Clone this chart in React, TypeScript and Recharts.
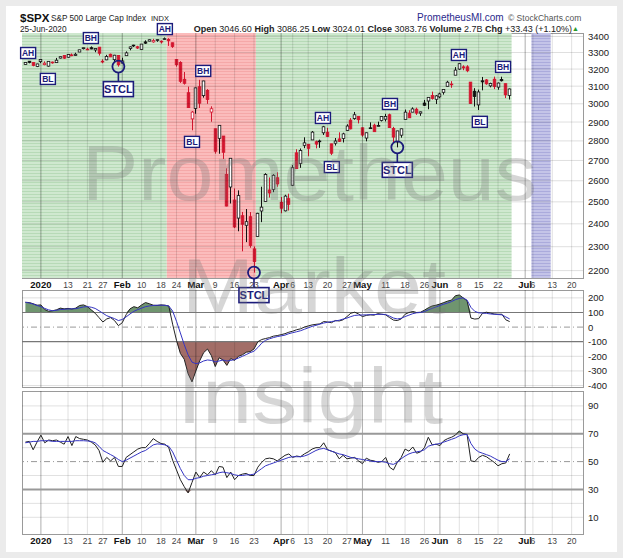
import React from 'react';
import {
  ComposedChart, Bar, Line, Area, XAxis, YAxis,
  ReferenceArea, ReferenceLine, ReferenceDot,
} from 'recharts';

const FONT = '"Liberation Sans", Arial, Helvetica, sans-serif';
const NAVY = '#1b1b7a';

// trading day number, 2 Jan 2020 = 0; first candle is 26 Dec 2019
const firstDay = -4;
const prevClose0 = 3223.4;

const opens = [
  3227.2, 3247.2, 3240.1, 3215.2,
  3244.7, 3226.4, 3217.6, 3241.9, 3238.6, 3266.0, 3281.8, 3271.1, 3285.4, 3282.3,
  3303.0, 3323.7, 3321.0, 3330.0, 3315.8, 3333.1, 3247.2, 3255.4, 3289.5, 3256.5,
  3282.3, 3235.7, 3280.6, 3324.9, 3344.9, 3335.5, 3318.3, 3365.9, 3370.5, 3365.9,
  3378.1, 3369.0, 3380.4, 3380.5, 3360.5, 3257.6, 3238.9, 3139.9, 3062.5, 2916.9,
  2974.3, 3096.5, 3045.8, 3075.7, 2954.2, 2863.9, 2813.5, 2825.6, 2630.9, 2570.0,
  2508.6, 2425.7, 2436.5, 2393.5, 2431.9, 2290.7, 2344.4, 2457.8, 2501.3, 2555.9,
  2559.0, 2614.7, 2498.1, 2458.5, 2514.9, 2578.3, 2738.7, 2685.0, 2777.0, 2782.5,
  2805.1, 2795.6, 2799.3, 2842.4, 2845.6, 2784.8, 2787.9, 2810.4, 2812.6, 2854.7,
  2910.0, 2918.5, 2930.9, 2869.1, 2815.0, 2868.9, 2883.1, 2878.3, 2908.8, 2915.5,
  2939.5, 2865.9, 2794.5, 2830.0, 2913.9, 2948.6, 2953.6, 2970.0, 2948.1, 3004.1,
  3015.7, 3046.6, 3025.2, 3038.8, 3064.8, 3098.9, 3111.6, 3163.8, 3199.9, 3213.3,
  3213.4, 3123.5, 3071.0, 2993.8, 3131.0, 3136.1, 3101.6, 3140.3, 3094.4, 3138.7,
  3114.4, 3046.6,
];
const highs = [
  3240.1, 3247.9, 3240.9, 3231.7,
  3258.1, 3246.2, 3246.8, 3244.9, 3267.1, 3275.6, 3283.0, 3288.1, 3294.3, 3298.7,
  3317.1, 3329.9, 3329.8, 3337.8, 3326.9, 3333.2, 3258.9, 3285.8, 3293.5, 3285.9,
  3282.3, 3268.4, 3306.9, 3337.6, 3348.0, 3341.4, 3352.3, 3375.6, 3381.5, 3385.1,
  3380.7, 3375.0, 3393.5, 3389.2, 3360.8, 3259.8, 3247.0, 3182.5, 3097.1, 2959.7,
  3091.0, 3136.7, 3131.0, 3083.0, 2985.9, 2863.9, 2882.6, 2825.6, 2661.0, 2711.3,
  2563.0, 2553.9, 2453.6, 2467.0, 2453.0, 2300.7, 2449.7, 2571.4, 2637.0, 2615.9,
  2631.8, 2641.4, 2522.8, 2533.2, 2538.2, 2676.9, 2756.9, 2760.8, 2818.6, 2782.5,
  2851.9, 2801.9, 2806.5, 2879.2, 2869.0, 2785.5, 2815.1, 2844.9, 2842.7, 2887.7,
  2921.2, 2954.9, 2930.9, 2869.1, 2844.2, 2898.2, 2891.1, 2901.9, 2932.2, 2944.3,
  2945.8, 2874.1, 2852.8, 2865.0, 2968.1, 2964.2, 2980.3, 2978.5, 2956.8, 3021.7,
  3036.3, 3068.7, 3049.2, 3062.2, 3081.1, 3130.9, 3128.9, 3211.7, 3233.1, 3222.7,
  3223.3, 3123.5, 3088.4, 3079.8, 3153.5, 3141.2, 3120.0, 3155.5, 3120.9, 3154.9,
  3115.0, 3086.3,
];
const lows = [
  3227.2, 3234.4, 3216.6, 3212.0,
  3235.5, 3222.3, 3214.6, 3232.4, 3236.7, 3263.7, 3260.9, 3268.4, 3277.2, 3280.7,
  3302.8, 3318.9, 3316.6, 3320.0, 3301.9, 3281.5, 3234.5, 3253.2, 3271.9, 3242.8,
  3214.7, 3235.7, 3280.6, 3313.8, 3334.4, 3322.1, 3317.8, 3352.7, 3369.7, 3360.5,
  3366.2, 3355.6, 3378.8, 3341.0, 3328.5, 3214.7, 3118.8, 3109.0, 2977.4, 2855.8,
  2945.2, 2976.6, 3034.4, 2999.8, 2901.5, 2734.4, 2734.0, 2707.2, 2478.9, 2492.4,
  2380.9, 2367.0, 2280.5, 2319.8, 2295.6, 2191.9, 2344.4, 2407.5, 2500.7, 2520.0,
  2545.3, 2571.2, 2447.5, 2455.8, 2460.0, 2574.6, 2657.7, 2663.3, 2762.4, 2721.2,
  2805.1, 2761.5, 2764.3, 2830.9, 2820.4, 2727.1, 2776.0, 2794.3, 2791.8, 2852.9,
  2860.7, 2912.2, 2892.5, 2821.6, 2797.9, 2863.6, 2847.7, 2876.5, 2902.9, 2903.4,
  2869.6, 2793.2, 2766.6, 2816.8, 2913.9, 2922.4, 2953.6, 2938.6, 2933.6, 2988.2,
  2969.8, 3023.4, 2998.6, 3031.5, 3051.6, 3098.9, 3090.4, 3163.8, 3196.0, 3193.1,
  3181.5, 2999.5, 2984.5, 2965.7, 3076.1, 3108.0, 3093.5, 3083.1, 3079.4, 3127.1,
  3032.1, 3024.0,
];
const closes = [
  3239.9, 3240.0, 3221.3, 3230.8,
  3257.9, 3234.9, 3246.3, 3237.2, 3253.1, 3274.7, 3265.4, 3288.1, 3283.2, 3289.3,
  3316.8, 3329.6, 3320.8, 3321.8, 3325.5, 3295.5, 3243.6, 3276.2, 3273.4, 3283.7,
  3225.5, 3248.9, 3297.6, 3334.7, 3345.8, 3327.7, 3352.1, 3357.8, 3379.5, 3373.9,
  3380.2, 3370.3, 3386.2, 3373.2, 3337.8, 3225.9, 3128.2, 3116.4, 2978.8, 2954.2,
  3090.2, 3003.4, 3130.1, 3023.9, 2972.4, 2746.6, 2882.2, 2741.4, 2480.6, 2711.0,
  2386.1, 2529.2, 2398.1, 2409.4, 2304.9, 2237.4, 2447.3, 2475.6, 2630.1, 2541.5,
  2626.7, 2584.6, 2470.5, 2526.9, 2488.7, 2663.7, 2659.4, 2750.0, 2789.8, 2761.6,
  2846.1, 2783.4, 2799.6, 2874.6, 2823.2, 2736.6, 2799.3, 2797.8, 2836.7, 2878.5,
  2863.4, 2939.5, 2912.4, 2830.7, 2842.7, 2868.4, 2848.4, 2881.2, 2929.8, 2930.2,
  2870.1, 2820.0, 2852.5, 2863.7, 2953.9, 2922.9, 2971.6, 2948.5, 2955.5, 2991.8,
  3036.1, 3029.7, 3044.3, 3055.7, 3080.8, 3122.9, 3112.4, 3193.9, 3232.4, 3207.2,
  3190.1, 3002.1, 3041.3, 3066.6, 3124.7, 3113.5, 3115.3, 3097.7, 3117.9, 3131.3,
  3050.3, 3083.8,
];

const cci = [
  170, 168, 160, 150,
  152, 120, 108, 112, 118, 130, 125, 128, 124, 130,
  148, 152, 140, 118, 95, 65, 35, 56, 65, 45,
  10, 30, 85, 125, 140, 132, 152, 168, 160, 150,
  148, 152, 150, 145, 20, -90, -180, -220, -320, -375,
  -300, -230, -175, -150, -195, -270, -210, -225, -262, -215,
  -228, -200, -190, -172, -168, -150, -100, -85, -78, -72,
  -62, -58, -52, -45, -35, -28, -18, -12, 0, 8,
  15, 19, 22, 38, 35, 30, 45, 42, 50, 72,
  95, 102, 90, 72, 80, 84, 82, 92, 88, 84,
  65, 48, 45, 56, 88, 100, 107, 100, 102, 116,
  132, 145, 150, 158, 168, 178, 185, 215, 220, 200,
  180, 62, 55, 58, 95, 102, 96, 90, 88, 88,
  50, 38,
];
const cciSignal = [
  170, 165, 158, 148,
  140, 128, 118, 112, 115, 120, 122, 124, 125, 126,
  132, 138, 140, 136, 128, 112, 95, 78, 68, 58,
  45, 52, 70, 90, 108, 120, 130, 140, 145, 148,
  150, 150, 149, 145, 110, 40, -40, -120, -190, -240,
  -250, -245, -232, -225, -228, -238, -232, -225, -232, -228,
  -222, -212, -200, -188, -175, -165, -140, -110, -90, -80,
  -72, -65, -60, -55, -45, -38, -32, -25, -15, -5,
  5, 12, 20, 28, 33, 38, 42, 47, 55, 62,
  72, 80, 82, 83, 84, 85, 86, 87, 88, 86,
  75, 62, 56, 60, 72, 82, 92, 98, 100, 106,
  118, 128, 138, 148, 157, 165, 175, 188, 196, 200,
  185, 135, 108, 98, 96, 94, 90, 88, 86, 84,
  70, 56,
];
const rsi = [
  64, 64.5, 58.5, 64,
  69, 63.5, 65.5, 65, 65.5, 64, 62.5, 68, 61.5, 68,
  66.5, 66, 65.5, 64, 62, 58, 49.5, 53, 50.5, 53,
  46.5, 46.5, 53, 55, 57, 59, 60, 60, 63, 66.5,
  64.5, 63, 62.5, 60, 51, 44, 37, 32, 27.5, 35,
  42.5, 38.5, 42.5, 40.5, 43.5, 40.5, 46.5, 46, 38.5, 42.5,
  37, 40, 41, 41.5, 40, 40, 46, 49.5, 52, 52.5,
  52, 50.5, 52.5, 54.5, 55.5, 53, 54, 53.5, 55.5, 57,
  59, 60, 60, 63.5, 58.5, 57.5, 56.5, 52, 54.5, 52,
  52.5, 53, 50.5, 48.5, 52.5, 51, 50.5, 49.5, 50, 53,
  46, 44, 49.5, 53, 59, 57.5, 60.5, 56, 57, 60,
  67.5, 62, 62.5, 61.5, 65, 66.5, 67.5, 69, 72, 70,
  69.5, 50.5, 50, 53, 54.5, 53.5, 51.5, 49.5, 47, 48.5,
  49, 55.5,
];
const rsiSignal = [
  63.5, 64, 64.5, 64.5,
  65, 65, 65, 64.5, 64.5, 64.5, 64.5, 64.5, 64.5, 65,
  65, 65, 64.8, 64.5, 63.5, 61, 58, 56.5, 55, 53.5,
  51.5, 50, 51, 52.5, 54, 55.5, 57, 58, 60, 62,
  62.7, 62.5, 62, 61, 57, 51, 45, 40, 37, 37,
  38, 38.5, 39.5, 40, 40.5, 41, 42, 42.5, 42, 41.5,
  40.5, 40, 40, 40.5, 40.5, 41, 43, 45, 47, 48,
  49, 50, 51, 52, 53, 53.5, 53.5, 53.5, 54, 55,
  56.5, 58, 59, 59.5, 58.5, 57.5, 56.5, 55.5, 55, 54,
  53, 52.5, 52, 51.5, 51, 50.5, 50, 50, 50, 49.5,
  48.5, 48, 49.5, 52, 54, 55.5, 56.5, 57, 57.5, 58.5,
  61, 62, 62.5, 63, 64, 65, 66, 67, 68.5, 69.3,
  69.5, 63, 59, 57, 56, 55, 54, 52.5, 51, 50,
  50, 52,
];

const tickDays = [0, 7, 12, 16, 21, 26, 31, 35, 40, 45, 50, 55, 62, 65, 69, 74, 79, 83, 89, 94, 99, 103, 108, 113, 118, 125, 127, 132, 137];
const tickLabels = ['2020', '13', '21', '27', 'Feb', '10', '18', '24', 'Mar', '9', '16', '23', 'Apr', '6', '13', '20', '27', 'May', '11', '18', '26', 'Jun', '8', '15', '22', 'Jul', '6', '13', '20'];
const monthDays = [0, 21, 40, 62, 83, 103, 125];

const priceTicks = [2200, 2300, 2400, 2500, 2600, 2700, 2800, 2900, 3000, 3100, 3200, 3300, 3400];
const cciTicks = [200, 100, 0, -100, -200, -300, -400];
const rsiTicks = [90, 70, 50, 30, 10];
const rsiGrid = [10, 20, 40, 60, 80, 90];

// background regimes: from day, to day
const bands = [
  { from: -4.88, to: 32.5, tone: 'g' },
  { from: 32.5, to: 55.5, tone: 'r' },
  { from: 55.5, to: 121.5, tone: 'g' },
  { from: 126.6, to: 131.6, tone: 'b' },
];

const tags = [
  { day: -3.3, price: 3297, text: 'AH' },
  { day: 1.8, price: 3142, text: 'BL' },
  { day: 12.9, price: 3390, text: 'BH' },
  { day: 32.0, price: 3447, text: 'AH' },
  { day: 41.9, price: 3189, text: 'BH' },
  { day: 39.0, price: 2795, text: 'BL' },
  { day: 72.8, price: 2922, text: 'AH' },
  { day: 75.1, price: 2667, text: 'BL' },
  { day: 90.1, price: 2999, text: 'BH' },
  { day: 107.9, price: 3285, text: 'AH' },
  { day: 119.3, price: 3213, text: 'BH' },
  { day: 113.3, price: 2901, text: 'BL' },
];
const stclDays = [20, 55, 92];

const X_DOMAIN = [-4.88, 139.93];

const days = closes.map((_, k) => k + firstDay);
const priceRows = days.map((day, k) => ({
  day, o: opens[k], h: highs[k], l: lows[k], c: closes[k],
  pc: k ? closes[k - 1] : prevClose0, hl: [lows[k], highs[k]],
}));
const cciRows = days.map((day, k) => ({
  day, v: cci[k], s: cciSignal[k],
  up: [100, Math.max(cci[k], 100)], dn: [Math.min(cci[k], -100), -100],
}));
const rsiRows = days.map((day, k) => ({
  day, v: rsi[k], s: rsiSignal[k],
  up: [70, Math.max(rsi[k], 70)], dn: [Math.min(rsi[k], 30), 30],
}));

const Candle = (props: any) => {
  let { x, y, width, height, payload } = props;
  if (height < 0) { y += height; height = -height; }
  const { o, h, l, c, pc } = payload;
  const k = height / (Math.log(h / l) || 1);
  const yOf = (p: number) => y + Math.log(h / p) * k;
  const cx = Math.round(x + width / 2) + 0.5;
  const color = c < pc ? '#d3152e' : '#111';
  const top = yOf(Math.max(o, c));
  const bot = yOf(Math.min(o, c));
  return (
    <g>
      <line x1={cx} x2={cx} y1={y} y2={y + height} stroke={color} strokeWidth={1} />
      <rect x={cx - 1.3} y={top} width={2.6} height={Math.max(bot - top, 0.8)}
        fill={c >= o ? '#fff' : color} stroke={color} strokeWidth={0.8} />
    </g>
  );
};

const DateTick = ({ x, y, payload }: any) => {
  const i = tickDays.indexOf(payload.value);
  const bold = monthDays.includes(payload.value);
  return (
    <text x={x} y={y} dy={8} textAnchor="middle" fontFamily={FONT}
      fontSize={bold ? 9.5 : 8.5} fontWeight={bold ? 'bold' : 'normal'} fill={bold ? '#111' : '#444'}>
      {tickLabels[i]}
    </text>
  );
};

const ValueTick = ({ x, y, payload }: any) => (
  <text x={x + 5} y={y + 3.5} textAnchor="start" fontFamily={FONT} fontSize={9.5} fill="#222">
    {payload.value}
  </text>
);

const Tag = ({ cx, cy, text }: any) => (
  <g>
    <rect x={cx - 7.5} y={cy - 5.5} width={15} height={11} fill="#fff" stroke={NAVY} strokeWidth={1.4} />
    <text x={cx} y={cy + 3} textAnchor="middle" fontFamily={FONT} fontSize={8.5} fontWeight="bold" fill={NAVY}>{text}</text>
  </g>
);

const Stcl = ({ cx, cy }: any) => (
  <g>
    <circle cx={cx} cy={cy} r={6} fill="none" stroke={NAVY} strokeWidth={1.8} />
    <line x1={cx} x2={cx} y1={cy + 6} y2={cy + 15} stroke={NAVY} strokeWidth={1.6} />
    <rect x={cx - 15} y={cy + 15} width={30} height={15} fill="#fff" stroke={NAVY} strokeWidth={1.6} />
    <text x={cx} y={cy + 26.5} textAnchor="middle" fontFamily={FONT} fontSize={11} fontWeight="bold" fill={NAVY}>STCL</text>
  </g>
);

const vGrid = () =>
  tickDays.map((d) => (
    <ReferenceLine key={'v' + d} x={d} stroke={monthDays.includes(d) ? 'rgba(0,0,0,0.32)' : 'rgba(0,0,0,0.12)'} strokeWidth={1} />
  ));

const frame = (top: number, height: number): React.CSSProperties => ({
  position: 'absolute', left: 22, top, width: 562, height, border: '1px solid #9a9a9a',
  boxSizing: 'border-box', pointerEvents: 'none',
});

function PriceChart() {
  return (
    <ComposedChart width={623} height={315} data={priceRows} margin={{ top: 33, right: 0, bottom: 20, left: 22 }}>
      <defs>
        <pattern id="bg-g" width="4" height="3" patternUnits="userSpaceOnUse">
          <rect width="4" height="3" fill="#cfe8cf" />
          <rect y="2" width="4" height="1" fill="#b7dab7" />
        </pattern>
        <pattern id="bg-r" width="4" height="3" patternUnits="userSpaceOnUse">
          <rect width="4" height="3" fill="#fbbcbc" />
          <rect y="2" width="4" height="1" fill="#f5a8a8" />
        </pattern>
        <pattern id="bg-b" width="4" height="3" patternUnits="userSpaceOnUse">
          <rect width="4" height="3" fill="#c4c4e8" />
          <rect y="2" width="4" height="1" fill="#ababdc" />
        </pattern>
      </defs>
      <XAxis dataKey="day" type="number" domain={X_DOMAIN} ticks={tickDays} interval={0} allowDataOverflow
        tick={<DateTick />} tickLine={false} axisLine={false} tickSize={0} tickMargin={2} height={17} />
      <YAxis orientation="right" type="number" scale="log" domain={[2170, 3422]} ticks={priceTicks} interval={0}
        allowDataOverflow width={40} tick={<ValueTick />} tickLine={false} axisLine={false} tickSize={0} tickMargin={0} />
      {bands.map((b, n) => (
        <ReferenceArea key={'b' + n} x1={b.from} x2={b.to} fill={`url(#bg-${b.tone})`} fillOpacity={1} stroke="none" ifOverflow="hidden" />
      ))}
      {priceTicks.map((p) => <ReferenceLine key={'h' + p} y={p} stroke="rgba(0,0,0,0.13)" />)}
      {vGrid()}
      <Bar dataKey="hl" barSize={3} shape={<Candle />} isAnimationActive={false} />
      {tags.map((t, n) => (
        <ReferenceDot key={'t' + n} x={t.day} y={t.price} r={0} ifOverflow="visible"
          shape={(p: any) => <Tag {...p} text={t.text} />} />
      ))}
      {stclDays.map((d) => (
        <ReferenceDot key={'s' + d} x={d} y={lows[d - firstDay]} r={0} ifOverflow="visible"
          shape={(p: any) => <Stcl {...p} />} />
      ))}
    </ComposedChart>
  );
}

function CciChart() {
  return (
    <ComposedChart width={623} height={105} data={cciRows} margin={{ top: 0, right: 0, bottom: 8, left: 22 }}>
      <XAxis dataKey="day" type="number" domain={X_DOMAIN} ticks={tickDays} hide allowDataOverflow />
      <YAxis orientation="right" type="number" domain={[-410, 254]} ticks={cciTicks} interval={0} allowDataOverflow
        width={40} tick={<ValueTick />} tickLine={false} axisLine={false} tickSize={0} tickMargin={0} />
      {[200, -200, -300, -400].map((v) => <ReferenceLine key={'g' + v} y={v} stroke="rgba(0,0,0,0.13)" />)}
      {vGrid()}
      <ReferenceLine y={0} stroke="#999" strokeDasharray="6 3 1 3" />
      <Area dataKey="up" stroke="none" fill="#6f956f" fillOpacity={1} isAnimationActive={false} dot={false} activeDot={false} />
      <Area dataKey="dn" stroke="none" fill="#a26d67" fillOpacity={1} isAnimationActive={false} dot={false} activeDot={false} />
      <ReferenceLine y={100} stroke="#777" strokeWidth={1.2} />
      <ReferenceLine y={-100} stroke="#777" strokeWidth={1.2} />
      <Line dataKey="v" stroke="#222" strokeWidth={1} dot={false} isAnimationActive={false} />
      <Line dataKey="s" stroke="#3434c2" strokeWidth={1} dot={false} isAnimationActive={false} />
    </ComposedChart>
  );
}

function RsiChart() {
  return (
    <ComposedChart width={623} height={160} data={rsiRows} margin={{ top: 0, right: 0, bottom: 0, left: 22 }}>
      <XAxis dataKey="day" type="number" domain={X_DOMAIN} ticks={tickDays} interval={0} allowDataOverflow
        tick={<DateTick />} tickLine={false} axisLine={false} tickSize={0} tickMargin={2} height={17} />
      <YAxis orientation="right" type="number" domain={[-2, 100.7]} ticks={rsiTicks} interval={0} allowDataOverflow
        width={40} tick={<ValueTick />} tickLine={false} axisLine={false} tickSize={0} tickMargin={0} />
      {rsiGrid.map((v) => <ReferenceLine key={'g' + v} y={v} stroke="rgba(0,0,0,0.12)" />)}
      {vGrid()}
      <ReferenceLine y={50} stroke="#999" strokeDasharray="6 3 1 3" />
      <ReferenceLine y={70} stroke="#999" strokeWidth={2} />
      <ReferenceLine y={30} stroke="#999" strokeWidth={2} />
      <Area dataKey="up" stroke="none" fill="#6f956f" fillOpacity={1} isAnimationActive={false} dot={false} activeDot={false} />
      <Area dataKey="dn" stroke="none" fill="#a26d67" fillOpacity={1} isAnimationActive={false} dot={false} activeDot={false} />
      <Line dataKey="v" stroke="#222" strokeWidth={1} dot={false} isAnimationActive={false} />
      <Line dataKey="s" stroke="#3434c2" strokeWidth={1} dot={false} isAnimationActive={false} />
    </ComposedChart>
  );
}

export default function App() {
  const abs = (top: number, z = 1): React.CSSProperties => ({ position: 'absolute', left: 0, top, zIndex: z });
  return (
    <div style={{ position: 'absolute', left: 0, top: 0, width: 623, height: 558, background: '#ebebeb', fontFamily: FONT, overflow: 'hidden' }}>
      <div style={{ position: 'absolute', left: 6, top: 6, width: 611, height: 546, background: '#fff' }} />
      <div style={abs(290)}><CciChart /></div>
      <div style={abs(391)}><RsiChart /></div>
      <div style={abs(0, 2)}><PriceChart /></div>
      <div style={frame(33, 246)} />
      <div style={frame(290, 98)} />
      <div style={frame(391, 144)} />
      <svg width={623} height={558} style={{ position: 'absolute', left: 0, top: 0, zIndex: 3, pointerEvents: 'none' }}>
        <g fontFamily={FONT} fill="#777" fillOpacity={0.3} fontSize={78}>
          <text x={82} y={200} textLength={455} lengthAdjust="spacingAndGlyphs">Prometheus</text>
          <text x={182} y={313} textLength={264} lengthAdjust="spacingAndGlyphs">Market</text>
          <text x={177} y={423} textLength={266} lengthAdjust="spacingAndGlyphs">Insight</text>
        </g>
        <g fontFamily={FONT}>
          <text x={20} y={22} fontSize={11.5} fontWeight="bold" fill="#111">$SPX</text>
          <text x={51} y={21} fontSize={8.2} fill="#222">S&amp;P 500 Large Cap Index</text>
          <text x={151} y={21} fontSize={7.5} fill="#222">INDX</text>
          <text x={20} y={32} fontSize={8.3} fill="#222">25-Jun-2020</text>
          <text x={417} y={21} fontSize={10} fill="#2a2a8c">PrometheusMI.com</text>
          <text x={508} y={21} fontSize={8.5} fill="#555">© StockCharts.com</text>
          <text x={572} y={32} textAnchor="end" fontSize={9} fill="#222">
            <tspan fontWeight="bold">Open</tspan> 3046.60 <tspan fontWeight="bold">High</tspan> 3086.25{' '}
            <tspan fontWeight="bold">Low</tspan> 3024.01 <tspan fontWeight="bold">Close</tspan> 3083.76{' '}
            <tspan fontWeight="bold">Volume</tspan> 2.7B <tspan fontWeight="bold">Chg</tspan> +33.43 (+1.10%)
          </text>
          <text x={579} y={31} fontSize={7} fill="#2a9a2a" textAnchor="end">▲</text>
        </g>
      </svg>
    </div>
  );
}
